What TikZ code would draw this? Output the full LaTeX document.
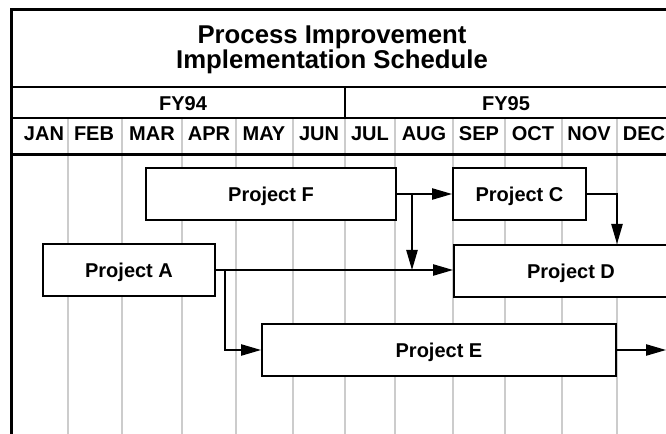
\documentclass[tikz,border=0pt]{standalone}
\usepackage{fontspec}
\setsansfont{Liberation Sans}
\usepackage{tikz}
\usetikzlibrary{arrows.meta,positioning}

\begin{document}
\begin{tikzpicture}[
			x=0.75pt,
			y=-0.75pt,
			>={Triangle[length=15pt,width=8.5pt]},
			font=\bfseries\sffamily,
			project/.style={
				rectangle,
				draw=black,
				line width=1.5pt,
				text centered,
				text depth=0pt,
				minimum height=39pt,
				fill=white,
				font=\sffamily\fontsize{15}{18}\selectfont\bfseries
			},
			month/.style={
				text depth=0pt,
				font=\sffamily\fontsize{15}{18}\selectfont\bfseries
			},
			title/.style={
				align=center,
				font=\sffamily\fontsize{19.3}{17.5}\selectfont\bfseries
			},
			chartframe/.style={
				line width=2.25pt
			},
			headrule/.style={
				line width=1.9pt
			},
			gridline/.style={
				draw=black!20,
				line width=1pt
			},
			arrowline/.style={
				draw=black,
				line width=1pt
			}
			]
			\clip (0,0) rectangle (666,434);
			
			% month grid first, so the rules lie on top
			\foreach \x in {68,122,182,236,293,345,395,453,505,562,617}
				\draw [gridline] (\x,118) -- (\x,440);
			
			\draw [chartframe] (11,440) -- (11,10) -- (700,10);
			\draw [headrule] (11,87) -- (700,87);
			\draw [headrule] (11,118) -- (700,118);
			\draw [headrule] (11,154.5) -- (700,154.5);
			\draw [headrule] (345,87) -- (345,118);
			
			% header texts
			\node [title] (title) at (332,50) {Process Improvement\\Implementation Schedule};
			
			\node [month] (fy94) at (183,104) {FY94};
			\node [month] (fy95) at (506,104) {FY95};
			
			\foreach \x/\m in {44/JAN, 94/FEB, 152/MAR, 209/APR, 264/MAY, 319/JUN,
				370/JUL, 424/AUG, 479/SEP, 533/OCT, 589/NOV, 644/DEC}
				\node [month] (\m) at (\x,133.5) {\m};
			
			% We place the projects
			\node [project, minimum width=187.5pt] (projF) at (271,194) {Project F};
			\node [project, minimum width=99.75pt] (projC) at (519.5,194) {Project C};
			\node [project, minimum width=129pt] (projA) at (129,270) {Project A};
			\node [project, minimum width=175.5pt] (projD) at (571,271) {Project D};
			\node [project, minimum width=265.5pt] (projE) at (439,350) {Project E};
			
			\coordinate (splitF) at (412,194);
			\coordinate (splitA) at (225,270);
			\coordinate (turnC) at (617,194);
			\coordinate (endE) at (666,350);
			
			\draw [arrowline,->] (projF) -- (projC);
			\draw [arrowline,->] (splitF) -- (splitF |- projA.east);
			\draw [arrowline,->] (projA.east) -- (projA.east -| projD.west);
			\draw [arrowline,->] (splitA) |- (projE);
			\draw [arrowline,->] (projC.east) -- (turnC) -- (turnC |- projD.north);
			\draw [arrowline,->] (projE) -- (endE);
			
\end{tikzpicture}
\end{document}
